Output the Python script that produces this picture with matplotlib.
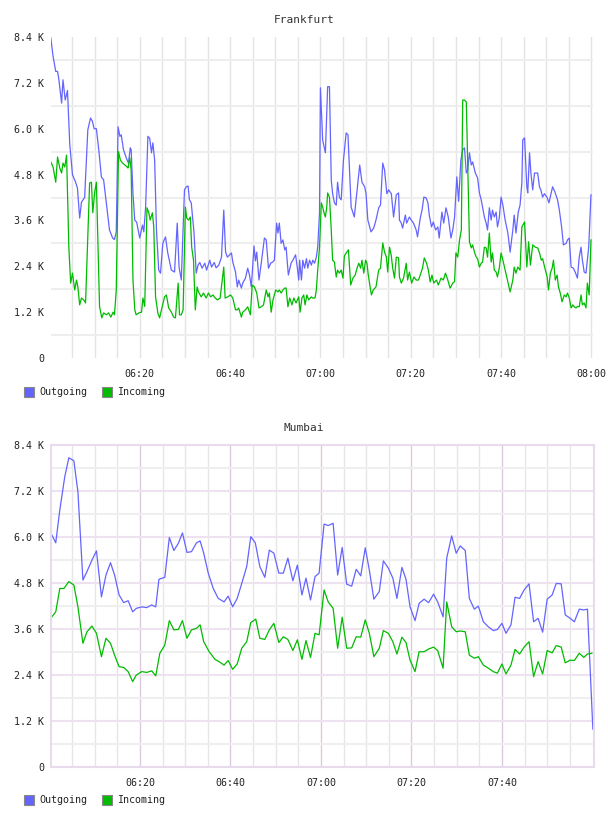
import matplotlib
matplotlib.use("Agg")
import matplotlib.pyplot as plt
from matplotlib.patches import Rectangle

# minutes after 06:00 and traffic in K
fra_out_t = [0.3, 0.8, 1.4, 1.8, 2.1, 2.7, 3.0, 3.5, 4.0, 4.5,
             5.1, 5.8, 6.2, 6.7, 7.1, 7.8, 8.5, 9.1, 9.5, 9.9,
             10.4, 11.0, 11.5, 12.0, 12.7, 13.3, 14.0, 14.4, 14.8, 15.2,
             15.6, 15.9, 16.4, 17.0, 17.5, 17.9, 18.1, 18.5, 18.9, 19.3,
             20.0, 20.6, 20.9, 21.3, 21.8, 22.2, 22.6, 22.9, 23.3, 23.7,
             24.2, 24.6, 25.1, 25.7, 26.2, 27.0, 27.7, 28.3, 28.7, 29.2,
             29.9, 30.3, 30.7, 31.0, 31.4, 32.0, 32.5, 32.9, 33.3, 33.8,
             34.4, 34.8, 35.5, 35.9, 36.5, 36.9, 37.5, 38.1, 38.6, 39.0,
             39.4, 40.3, 40.6, 41.2, 41.6, 41.9, 42.5, 42.8, 43.4, 43.9,
             44.3, 44.7, 45.3, 45.6, 45.9, 46.4, 46.9, 47.6, 48.0, 48.5,
             49.0, 49.4, 49.8, 50.3, 50.6, 50.9, 51.3, 51.7, 52.1, 52.4,
             52.9, 53.5, 53.9, 54.5, 54.9, 55.2, 55.4, 55.8, 56.1, 56.5,
             56.9, 57.2, 57.6, 58.0, 58.3, 58.7, 59.1, 59.4, 59.8, 60.0,
             60.5, 61.1, 61.6, 62.0, 62.4, 62.7, 63.1, 63.5, 63.8, 64.2,
             64.6, 65.1, 65.7, 66.1, 66.8, 67.5, 67.9, 68.7, 69.2, 69.8,
             70.1, 70.5, 71.2, 71.8, 72.3, 72.9, 73.3, 73.8, 74.2, 74.7,
             75.1, 75.7, 76.2, 76.8, 77.3, 77.5, 77.9, 78.2, 78.8, 79.1,
             79.7, 80.1, 80.6, 81.2, 81.5, 82.1, 82.5, 82.9, 83.4, 83.8,
             84.1, 84.6, 85.0, 85.5, 86.0, 86.3, 86.9, 87.3, 87.8, 88.3,
             88.9, 89.3, 89.7, 90.2, 90.6, 91.1, 91.5, 91.9, 92.3, 92.6,
             93.0, 93.4, 93.7, 94.3, 94.8, 95.2, 95.6, 95.9, 96.3, 96.7,
             97.0, 97.4, 97.8, 98.1, 98.5, 98.9, 99.2, 99.6, 100.0, 100.4,
             100.9, 101.5, 102.0, 102.6, 102.9, 103.3, 103.8, 104.2, 104.6, 104.8,
             105.2, 105.7, 105.9, 106.3, 106.6, 107.0, 107.4, 107.7, 108.1, 108.5,
             108.8, 109.2, 109.6, 110.2, 110.6, 111.1, 111.4, 111.9, 112.5, 112.9,
             113.4, 113.8, 114.4, 114.7, 115.1, 115.5, 116.0, 116.4, 116.9, 117.3,
             117.7, 118.0, 118.4, 118.8, 119.4, 119.9]
fra_out = [8.38, 7.9, 7.5, 7.5, 7.28, 6.67, 7.28, 6.75, 7.0, 5.6,
           4.8, 4.6, 4.45, 3.66, 4.08, 4.2, 5.97, 6.28, 6.2, 6.0,
           6.0, 5.37, 4.74, 4.66, 3.95, 3.35, 3.14, 3.1, 3.3, 6.05,
           5.8, 5.84, 5.45, 5.24, 5.1, 5.5, 5.45, 4.3, 3.6, 3.56,
           3.14, 3.48, 3.3, 3.95, 5.8, 5.75, 5.37, 5.63, 5.18, 3.35,
           2.3, 2.22, 3.0, 3.17, 2.75, 2.3, 2.25, 3.53, 2.38, 2.04,
           4.4, 4.48, 4.5, 4.14, 4.06, 3.3, 2.22, 2.43, 2.5, 2.35,
           2.48, 2.3, 2.56, 2.38, 2.5, 2.36, 2.43, 2.64, 3.87, 2.77,
           2.64, 2.75, 2.51, 2.25, 1.86, 2.04, 1.83, 1.96, 2.09, 2.35,
           2.17, 1.86, 2.93, 2.54, 2.77, 2.04, 2.48, 3.14, 3.09, 2.35,
           2.48, 2.51, 2.56, 3.53, 3.27, 3.53, 3.0, 3.09, 2.83, 2.9,
           2.17, 2.48, 2.56, 2.7, 2.35, 2.04, 2.56, 2.04, 2.56, 2.35,
           2.6, 2.35, 2.56, 2.43, 2.56, 2.48, 2.64, 2.9, 3.8, 7.07,
           5.7, 5.37, 7.1, 7.1, 4.66, 4.3, 4.06, 4.0, 4.6, 4.2,
           4.14, 5.18, 5.89, 5.84, 3.95, 3.69, 4.14, 5.05, 4.6, 4.48,
           4.3, 3.61, 3.3, 3.4, 3.61, 3.93, 4.0, 5.1, 4.92, 4.3,
           4.4, 4.3, 3.69, 4.27, 4.32, 3.61, 3.53, 3.4, 3.74, 3.53,
           3.69, 3.61, 3.53, 3.35, 3.17, 3.66, 3.87, 4.21, 4.19, 4.06,
           3.74, 3.43, 3.56, 3.35, 3.43, 3.14, 3.82, 3.53, 3.93, 3.69,
           3.14, 3.35, 3.69, 4.74, 4.1, 5.18, 5.45, 5.5, 4.84, 4.92,
           5.37, 5.05, 5.13, 4.84, 4.71, 4.32, 4.14, 3.95, 3.69, 3.53,
           3.35, 3.93, 3.61, 3.87, 3.69, 3.82, 3.43, 3.66, 4.21, 4.0,
           3.61, 3.27, 2.77, 3.35, 3.74, 3.27, 3.82, 4.0, 4.58, 5.71,
           5.76, 4.48, 4.32, 5.37, 4.84, 4.4, 4.84, 4.84, 4.84, 4.48,
           4.4, 4.21, 4.3, 4.2, 4.06, 4.32, 4.48, 4.35, 4.14, 3.87,
           3.43, 2.96, 3.0, 3.09, 3.14, 2.38, 2.35, 2.25, 2.09, 2.64,
           2.9, 2.56, 2.25, 2.22, 2.9, 4.27]

fra_in_t = [0.3, 0.8, 1.4, 1.8, 2.3, 2.7, 3.0, 3.4, 3.8, 4.3,
            4.7, 5.1, 5.6, 6.0, 6.3, 6.7, 7.1, 7.6, 8.0, 8.9,
            9.3, 9.6, 10.0, 10.4, 11.1, 11.6, 12.0, 12.6, 13.1, 13.6,
            14.1, 14.4, 14.8, 15.3, 15.7, 16.2, 16.7, 17.2, 17.4, 17.8,
            18.1, 18.5, 18.9, 19.2, 19.8, 20.4, 20.7, 21.1, 21.6, 22.0,
            22.3, 22.8, 23.1, 23.5, 24.0, 24.4, 24.9, 25.5, 25.9, 26.4,
            27.0, 27.5, 27.9, 28.5, 28.8, 29.2, 29.6, 30.1, 30.4, 30.8,
            31.2, 31.5, 31.9, 32.3, 32.7, 33.0, 33.6, 34.1, 34.7, 35.2,
            35.7, 36.2, 36.7, 37.2, 37.8, 38.6, 38.9, 39.5, 40.1, 40.6,
            41.2, 41.6, 41.9, 42.5, 42.8, 43.4, 43.9, 44.5, 44.9, 45.4,
            45.9, 46.4, 46.9, 47.4, 48.0, 48.4, 48.7, 49.1, 49.5, 50.1,
            50.6, 50.9, 51.3, 51.7, 52.1, 52.4, 52.8, 53.2, 53.7, 54.1,
            54.6, 55.2, 55.5, 55.9, 56.3, 56.6, 57.0, 57.4, 58.0, 58.3,
            58.8, 59.1, 59.4, 59.8, 60.2, 60.5, 60.8, 61.1, 61.4, 61.6,
            62.0, 62.4, 62.7, 63.1, 63.5, 63.8, 64.2, 64.6, 65.0, 65.3,
            65.7, 66.2, 66.7, 67.2, 67.7, 68.1, 68.5, 68.9, 69.2, 69.6,
            70.0, 70.3, 70.6, 71.0, 71.3, 71.7, 72.3, 72.9, 73.3, 73.8,
            74.2, 74.6, 74.9, 75.3, 75.7, 76.0, 76.4, 76.8, 77.3, 77.5,
            77.9, 78.4, 79.0, 79.3, 79.7, 80.2, 80.7, 81.2, 81.7, 82.1,
            82.6, 83.0, 83.5, 83.9, 84.3, 84.7, 85.1, 85.7, 86.1, 86.7,
            87.2, 87.7, 88.2, 88.7, 89.3, 89.7, 90.0, 90.4, 90.8, 91.2,
            91.5, 91.9, 92.3, 93.0, 93.4, 93.7, 94.1, 94.5, 94.8, 95.2,
            95.6, 95.9, 96.3, 96.7, 97.0, 97.4, 97.8, 98.1, 98.5, 98.9,
            99.2, 99.6, 100.0, 100.4, 100.9, 101.5, 102.0, 102.6, 102.9, 103.3,
            103.7, 104.2, 104.6, 105.2, 105.7, 106.1, 106.5, 107.0, 107.6, 108.1,
            108.5, 108.9, 109.2, 109.7, 110.2, 110.5, 110.9, 111.3, 111.6, 112.0,
            112.4, 112.7, 113.1, 113.5, 114.0, 114.4, 114.7, 115.1, 115.5, 115.9,
            116.2, 116.6, 116.9, 117.3, 117.7, 118.0, 118.4, 118.8, 119.1, 119.5,
            119.9]
fra_in = [5.13, 5.0, 4.6, 5.26, 4.97, 4.84, 5.1, 5.0, 5.31, 2.9,
          1.96, 2.22, 1.78, 2.04, 1.86, 1.39, 1.57, 1.52, 1.44, 4.58,
          4.6, 3.8, 4.32, 4.6, 1.34, 1.05, 1.18, 1.13, 1.18, 1.07,
          1.2, 1.13, 1.78, 5.4, 5.18, 5.1, 5.05, 5.0, 4.97, 5.24,
          4.9, 2.04, 1.26, 1.13, 1.18, 1.2, 1.57, 1.35, 3.93, 3.8,
          3.61, 3.8, 3.43, 1.6, 1.18, 1.05, 1.31, 1.6, 1.65, 1.31,
          1.2, 1.07, 1.05, 1.96, 1.13, 1.13, 1.26, 3.95, 3.66, 3.61,
          3.69, 2.9, 2.56, 1.26, 1.86, 1.73, 1.6, 1.7, 1.57, 1.7,
          1.6, 1.65, 1.57, 1.52, 1.57, 2.38, 1.57, 1.6, 1.65, 1.57,
          1.26, 1.26, 1.31, 1.07, 1.2, 1.26, 1.34, 1.13, 1.91, 1.86,
          1.7, 1.31, 1.34, 1.39, 1.78, 1.6, 1.7, 1.2, 1.52, 1.78,
          1.73, 1.78, 1.7, 1.78, 1.83, 1.83, 1.34, 1.57, 1.39, 1.57,
          1.44, 1.6, 1.2, 1.57, 1.65, 1.39, 1.65, 1.52, 1.6, 1.57,
          1.57, 1.78, 2.3, 2.9, 4.06, 3.95, 3.8, 3.69, 3.95, 4.32,
          4.21, 3.35, 2.56, 2.51, 2.12, 2.3, 2.22, 2.3, 2.09, 2.67,
          2.75, 2.83, 1.91, 2.09, 2.17, 2.35, 2.48, 2.35, 2.56, 2.22,
          2.56, 2.48, 2.17, 1.86, 1.65, 1.78, 1.86, 2.3, 2.35, 3.01,
          2.77, 2.64, 2.25, 2.9, 2.67, 2.35, 2.09, 2.64, 2.62, 2.12,
          1.96, 2.09, 2.48, 2.04, 2.25, 1.96, 2.12, 2.04, 2.04, 2.17,
          2.35, 2.62, 2.48, 2.3, 1.99, 2.17, 1.96, 2.04, 1.91, 2.09,
          2.04, 2.22, 2.04, 1.83, 1.96, 2.0, 2.75, 2.64, 3.09, 3.35,
          6.75, 6.75, 6.7, 3.04, 2.88, 2.96, 2.77, 2.64, 2.6, 2.38,
          2.48, 2.51, 2.9, 2.88, 2.64, 3.27, 2.51, 2.75, 2.3, 2.25,
          2.12, 2.35, 2.75, 2.56, 2.3, 1.99, 1.73, 2.04, 2.38, 2.22,
          2.38, 2.3, 3.43, 3.56, 2.38, 3.04, 2.43, 2.96, 2.9, 2.88,
          2.75, 2.56, 2.6, 2.35, 2.12, 1.78, 2.22, 2.35, 2.56, 2.04,
          2.17, 1.86, 1.7, 1.47, 1.65, 1.6, 1.7, 1.57, 1.31, 1.39,
          1.34, 1.31, 1.35, 1.34, 1.65, 1.39, 1.44, 1.31, 1.96, 1.65,
          3.09]

mum_out_t = [0.3, 1.4, 2.3, 3.4, 4.3, 5.4, 6.3, 7.4, 8.3, 9.4,
             10.4, 11.5, 12.5, 13.5, 14.4, 15.4, 16.4, 17.4, 18.4, 19.2,
             20.4, 21.5, 22.6, 23.5, 24.2, 25.5, 26.5, 27.5, 28.5, 29.4,
             30.4, 31.4, 32.5, 33.3, 34.1, 35.1, 36.2, 37.3, 38.6, 39.5,
             40.5, 41.5, 42.5, 43.6, 44.5, 45.5, 46.5, 47.6, 48.6, 49.6,
             50.7, 51.7, 52.7, 53.8, 54.8, 55.8, 56.7, 57.7, 58.7, 59.6,
             60.7, 61.6, 62.7, 63.7, 64.7, 65.7, 66.8, 67.8, 68.8, 69.8,
             70.7, 71.7, 72.9, 73.8, 74.9, 75.9, 76.8, 77.9, 78.8, 79.7,
             80.8, 81.7, 82.8, 83.8, 84.9, 85.8, 87.0, 87.8, 88.9, 89.9,
             90.8, 91.9, 92.8, 93.9, 94.8, 95.9, 97.0, 98.1, 99.0, 100.0,
             100.9, 102.0, 102.9, 103.9, 104.9, 106.0, 107.0, 108.0, 109.0, 110.0,
             111.1, 112.0, 113.1, 114.0, 115.1, 116.0, 117.1, 118.1, 118.9, 120.1]
mum_out = [6.1, 5.84, 6.70, 7.57, 8.06, 7.98, 7.17, 4.87, 5.09, 5.39,
           5.63, 4.43, 5.0, 5.32, 5.0, 4.48, 4.28, 4.33, 4.04, 4.13,
           4.17, 4.15, 4.22, 4.17, 4.89, 4.94, 5.98, 5.64, 5.83, 6.1,
           5.59, 5.61, 5.84, 5.89, 5.57, 5.05, 4.65, 4.39, 4.3, 4.45,
           4.17, 4.39, 4.78, 5.22, 6.0, 5.84, 5.22, 4.94, 5.65, 5.57,
           5.05, 5.05, 5.44, 4.85, 5.26, 4.48, 4.92, 4.35, 4.96, 5.05,
           6.33, 6.29, 6.35, 5.0, 5.72, 4.76, 4.71, 5.15, 4.98, 5.71,
           5.13, 4.37, 4.57, 5.37, 5.18, 4.92, 4.39, 5.2, 4.89, 4.17,
           3.81, 4.26, 4.37, 4.28, 4.5, 4.30, 3.91, 5.44, 6.02, 5.57,
           5.76, 5.64, 4.39, 4.11, 4.19, 3.78, 3.65, 3.55, 3.58, 3.74,
           3.48, 3.70, 4.42, 4.39, 4.61, 4.77, 3.78, 3.87, 3.51, 4.37,
           4.48, 4.78, 4.77, 3.96, 3.87, 3.78, 4.11, 4.09, 4.11, 0.98]

mum_in_t = [0.3, 1.4, 2.3, 3.2, 4.3, 5.4, 6.3, 7.4, 8.3, 9.4,
            10.4, 11.5, 12.5, 13.5, 14.4, 15.4, 16.4, 17.4, 18.4, 19.2,
            20.4, 21.5, 22.6, 23.5, 24.4, 25.5, 26.5, 27.5, 28.5, 29.4,
            30.4, 31.4, 32.5, 33.3, 34.1, 35.3, 36.6, 37.5, 38.6, 39.5,
            40.5, 41.5, 42.5, 43.6, 44.5, 45.6, 46.5, 47.6, 48.6, 49.6,
            50.7, 51.7, 52.7, 53.8, 54.8, 55.8, 56.7, 57.7, 58.7, 59.6,
            60.7, 61.6, 62.7, 63.7, 64.7, 65.7, 66.8, 67.8, 68.8, 69.8,
            70.7, 71.7, 72.9, 73.8, 74.9, 75.9, 76.8, 77.9, 78.8, 79.7,
            80.8, 81.7, 82.8, 83.8, 84.9, 85.8, 87.0, 87.8, 88.9, 89.9,
            90.8, 91.9, 92.8, 93.9, 94.8, 95.9, 97.0, 98.1, 99.0, 100.0,
            100.9, 102.0, 102.9, 103.9, 104.9, 106.0, 107.0, 108.0, 109.0, 110.0,
            111.1, 112.0, 113.1, 114.0, 115.1, 116.0, 117.1, 118.1, 118.9, 119.9]
mum_in = [3.87, 4.04, 4.65, 4.65, 4.83, 4.74, 4.17, 3.22, 3.52, 3.67,
          3.48, 2.87, 3.35, 3.22, 2.91, 2.61, 2.59, 2.48, 2.22, 2.39,
          2.48, 2.46, 2.5, 2.37, 2.96, 3.17, 3.81, 3.57, 3.58, 3.81,
          3.35, 3.57, 3.61, 3.7, 3.26, 3.0, 2.8, 2.74, 2.65, 2.77,
          2.54, 2.68, 3.09, 3.26, 3.76, 3.85, 3.35, 3.32, 3.57, 3.74,
          3.24, 3.39, 3.32, 3.03, 3.31, 2.8, 3.29, 2.85, 3.48, 3.44,
          4.61, 4.3, 4.13, 3.09, 3.9, 3.09, 3.1, 3.39, 3.38, 3.83,
          3.48, 2.87, 3.09, 3.55, 3.48, 3.26, 2.94, 3.38, 3.24, 2.78,
          2.48, 3.0, 3.0, 3.07, 3.12, 3.03, 2.57, 4.3, 3.65, 3.52,
          3.54, 3.52, 2.91, 2.83, 2.87, 2.65, 2.57, 2.48, 2.44, 2.68,
          2.42, 2.65, 3.06, 2.94, 3.12, 3.26, 2.35, 2.74, 2.42, 3.03,
          2.97, 3.16, 3.12, 2.71, 2.78, 2.77, 2.96, 2.85, 2.94, 2.96]

y_ticks = [0, 1.2, 2.4, 3.6, 4.8, 6.0, 7.2, 8.4]
y_labels = ["0", "1.2 K", "2.4 K", "3.6 K", "4.8 K", "6.0 K", "7.2 K", "8.4 K"]
x_ticks = [20, 40, 60, 80, 100, 120]
x_labels = ["06:20", "06:40", "07:00", "07:20", "07:40", "08:00"]

BLUE = "#6464ff"
GREEN = "#00bb00"
W, H = 608, 816

plt.rcParams["font.family"] = ["DejaVu Sans Mono"]

fig = plt.figure(figsize=(W / 100, H / 100), dpi=100)


def fx(px):
    return px / W


def fy(py):
    return 1 - py / H


def setup(ax, framed, n_major):
    ax.set_xlim(0.35, 120.35)
    ax.set_ylim(0, 8.4)
    ax.set_yticks(y_ticks)
    ax.set_yticklabels(y_labels)
    ax.set_yticks([0.6, 1.8, 3.0, 4.2, 5.4, 6.6, 7.8], minor=True)
    ax.set_xticks(x_ticks[:n_major])
    ax.set_xticklabels(x_labels[:n_major])
    ax.set_xticks(list(range(5, 120, 5)), minor=True)
    ax.tick_params(which="both", length=0, labelsize=7.2, colors="#222222")
    ax.tick_params(axis="y", pad=5)
    ax.tick_params(axis="x", pad=8)
    ax.set_axisbelow(True)
    if framed:
        ax.yaxis.grid(True, which="major", color="#efe2f0", lw=1.5)
        ax.yaxis.grid(True, which="minor", color="#efefef", lw=1.5)
        ax.xaxis.grid(True, which="major", color="#dcc8e0", lw=1)
        ax.xaxis.grid(True, which="minor", color="#e6e6e6", lw=1)
        for s in ax.spines.values():
            s.set_color("#e8dcec")
            s.set_linewidth(1.5)
    else:
        ax.yaxis.grid(True, which="minor", color="#eeeeee", lw=1.5)
        ax.xaxis.grid(True, which="both", color="#e4e4e4", lw=1)
        for s in ax.spines.values():
            s.set_visible(False)


def legend(py):
    for x0, color, label in [(24, BLUE, "Outgoing"), (102, GREEN, "Incoming")]:
        fig.patches.append(Rectangle((fx(x0), fy(py + 5)), 10 / W, 10 / H,
                                     transform=fig.transFigure, facecolor=color,
                                     edgecolor="#888888", lw=0.8))
        fig.text(fx(x0 + 15), fy(py), label, ha="left", va="center",
                 fontsize=7.2, color="#222222")


ax1 = fig.add_axes([fx(51), fy(358), 542 / W, 321 / H])
setup(ax1, False, 6)
ax1.plot(fra_out_t, fra_out, color=BLUE, lw=0.9)
ax1.plot(fra_in_t, fra_in, color=GREEN, lw=0.9)
fig.text(0.5, fy(20), "Frankfurt", ha="center", va="center", fontsize=8, color="#333333")
legend(392)

ax2 = fig.add_axes([fx(51), fy(766.7), 543 / W, 322 / H])
setup(ax2, True, 5)
ax2.plot(mum_out_t, mum_out, color=BLUE, lw=0.9)
ax2.plot(mum_in_t, mum_in, color=GREEN, lw=0.9)
fig.text(0.5, fy(428), "Mumbai", ha="center", va="center", fontsize=8, color="#333333")
legend(800)

fig.savefig("out.png", dpi=100)
